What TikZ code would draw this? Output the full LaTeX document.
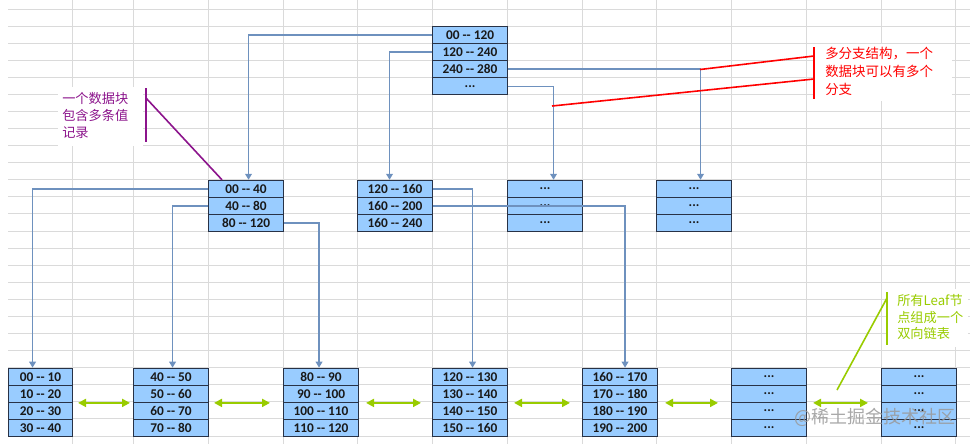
\documentclass[tikz,border=0pt]{standalone}
\usepackage{fontspec}
\setmainfont{Carlito}
\newfontfamily\cjk{Noto Sans CJK SC}
\usetikzlibrary{arrows.meta,calc}
\definecolor{cellblue}{RGB}{153,204,255}
\definecolor{celledge}{RGB}{40,50,70}
\definecolor{connblue}{RGB}{110,145,190}
\definecolor{gridgray}{RGB}{218,218,218}
\definecolor{notepurple}{RGB}{140,20,140}
\definecolor{notegreen}{RGB}{153,204,0}
\newcommand\rng[2]{#1 -{}- #2}
\tikzset{
  cell/.style={draw=celledge, fill=cellblue, line width=0.8pt, minimum width=56.25pt,
    minimum height=12.81pt, inner sep=0pt, anchor=north west, text=black!90,
    font=\bfseries\fontsize{10}{12}\selectfont},
  narrowcell/.style={cell, minimum width=48pt},
  gridline/.style={draw=gridgray, line width=0.75pt},
  conn/.style={draw=connblue, line width=1.35pt, -{Triangle[length=4.5pt,width=5pt]}},
  link/.style={draw=notegreen, line width=1.5pt,
    {Triangle[length=6pt,width=6pt]}-{Triangle[length=6pt,width=6pt]}},
  notebox/.style={fill=white, draw=none},
  notetext/.style={anchor=west, align=left, inner sep=0pt},
  noteline/.style={line width=1.2pt}
}
\begin{document}
\begin{tikzpicture}[x=0.75pt,y=-0.75pt]
\useasboundingbox (0,0) rectangle (970,444);
% spreadsheet grid
\foreach \k in {0,...,25} \draw[gridline] (8,{9+17.08*\k}) -- (970,{9+17.08*\k});
\foreach \x in {72,133,208,283,357,432,507,582,656,731,806,881,955} \draw[gridline] (\x,0) -- (\x,444);

% root
\node[cell] (r1) at (432,26.08) {\rng{00}{120}};
\node[cell] (r2) at (432,43.16) {\rng{120}{240}};
\node[cell] (r3) at (432,60.24) {\rng{240}{280}};
\node[cell] (r4) at (432,77.32) {...};

% middle level
\node[cell] (m1a) at (208,179.80) {\rng{00}{40}};
\node[cell] (m1b) at (208,196.88) {\rng{40}{80}};
\node[cell] (m1c) at (208,213.96) {\rng{80}{120}};
\node[cell] (m2a) at (357,179.80) {\rng{120}{160}};
\node[cell] (m2b) at (357,196.88) {\rng{160}{200}};
\node[cell] (m2c) at (357,213.96) {\rng{160}{240}};
\node[cell] (m3a) at (507,179.80) {...};
\node[cell] (m3b) at (507,196.88) {...};
\node[cell] (m3c) at (507,213.96) {...};
\node[cell] (m4a) at (656,179.80) {...};
\node[cell] (m4b) at (656,196.88) {...};
\node[cell] (m4c) at (656,213.96) {...};

% leaves
\node[narrowcell] (l1a) at (8,367.68) {\rng{00}{10}};
\node[narrowcell] (l1b) at (8,384.76) {\rng{10}{20}};
\node[narrowcell] (l1c) at (8,401.84) {\rng{20}{30}};
\node[narrowcell] (l1d) at (8,418.92) {\rng{30}{40}};
\node[cell] (l2a) at (133,367.68) {\rng{40}{50}};
\node[cell] (l2b) at (133,384.76) {\rng{50}{60}};
\node[cell] (l2c) at (133,401.84) {\rng{60}{70}};
\node[cell] (l2d) at (133,418.92) {\rng{70}{80}};
\node[cell] (l3a) at (283,367.68) {\rng{80}{90}};
\node[cell] (l3b) at (283,384.76) {\rng{90}{100}};
\node[cell] (l3c) at (283,401.84) {\rng{100}{110}};
\node[cell] (l3d) at (283,418.92) {\rng{110}{120}};
\node[cell] (l4a) at (432,367.68) {\rng{120}{130}};
\node[cell] (l4b) at (432,384.76) {\rng{130}{140}};
\node[cell] (l4c) at (432,401.84) {\rng{140}{150}};
\node[cell] (l4d) at (432,418.92) {\rng{150}{160}};
\node[cell] (l5a) at (582,367.68) {\rng{160}{170}};
\node[cell] (l5b) at (582,384.76) {\rng{170}{180}};
\node[cell] (l5c) at (582,401.84) {\rng{180}{190}};
\node[cell] (l5d) at (582,418.92) {\rng{190}{200}};
\node[cell] (l6a) at (731,367.68) {...};
\node[cell] (l6b) at (731,384.76) {...};
\node[cell] (l6c) at (731,401.84) {...};
\node[cell] (l6d) at (731,418.92) {...};
\node[cell] (l7a) at (881,367.68) {...};
\node[cell] (l7b) at (881,384.76) {...};
\node[cell] (l7c) at (881,401.84) {...};
\node[cell] (l7d) at (881,418.92) {...};

% tree connectors
\draw[conn] (r1.west) -| ($(m1a.north)+(2.5,0)$);
\draw[conn] (r2.west) -| ($(m2a.north)+(-5.5,0)$);
\draw[conn] (r3.east) -| ($(m4a.north)+(6.5,0)$);
\draw[conn] (r4.east) -| ($(m3a.north)+(8.5,0)$);
\draw[conn] (m1a.west) -| ($(l1a.north)+(-8,0)$);
\draw[conn] (m1b.west) -| ($(l2a.north)+(1.5,0)$);
\draw[conn] (m1c.east) -| ($(l3a.north)+(-2,0)$);
\draw[conn] (m2a.east) -| ($(l4a.north)+(2.5,0)$);
\draw[conn] (m2b.east) -| ($(l5a.north)+(5,0)$);

% leaf links
\draw[link] ($(l1b.south east)+(5,0)$) -- ($(l2b.south west)+(-3,0)$);
\draw[link] ($(l2b.south east)+(5,0)$) -- ($(l3b.south west)+(-13,0)$);
\draw[link] ($(l3b.south east)+(7,0)$) -- ($(l4b.south west)+(-11,0)$);
\draw[link] ($(l4b.south east)+(6,0)$) -- ($(l5b.south west)+(-12,0)$);
\draw[link] ($(l5b.south east)+(7,0)$) -- ($(l6b.south west)+(-13,0)$);
\draw[link] ($(l6b.south east)+(6,0)$) -- ($(l7b.south west)+(-13,0)$);

% purple note
\fill[notebox] (58,87) rectangle (143,146);
\node[notetext, text=notepurple, font=\cjk\fontsize{9.9}{12.75}\selectfont] (pnote) at (62,115)
  {一个数据块\\包含多条值\\记录};
\coordinate (pbt) at (146,88);
\coordinate (pbb) at (146,142);
\coordinate (pbm) at (146,98);
\draw[noteline, notepurple] (pbt) -- (pbb);
\draw[noteline, notepurple] (pbm) -- ($(m1a.north west)+(14,0)$);

% red note
\fill[notebox] (814,44) rectangle (952,101);
\node[notetext, text=red, font=\cjk\fontsize{10.1}{13.5}\selectfont] (rnote) at (825,71)
  {多分支结构，一个\\数据块可以有多个\\分支};
\coordinate (rbt) at (814,47);
\coordinate (rbb) at (814,99);
\coordinate (rb1) at (814,56);
\coordinate (rb2) at (814,79);
\coordinate (rp1) at (700,69.5);
\coordinate (rp2) at (552,106);
\draw[noteline, red] (rbt) -- (rbb);
\draw[noteline, red] (rp1) -- (rb1);
\draw[noteline, red] (rp2) -- (rb2);

% green note
\fill[notebox] (887,289) rectangle (968,347);
\node[notetext, text=notegreen, font=\cjk\fontsize{9.9}{12.4}\selectfont] (gnote) at (897,317)
  {所有Leaf节\\点组成一个\\双向链表};
\coordinate (gbt) at (887,292);
\coordinate (gbb) at (887,345);
\coordinate (gbm) at (887,298);
\coordinate (gp) at (837,390);
\draw[noteline, notegreen] (gbt) -- (gbb);
\draw[noteline, notegreen] (gbm) -- (gp);

% watermark
\node[anchor=east, inner sep=0pt, text=black!40, opacity=0.85, font=\cjk\fontsize{13.5}{14}\selectfont] (wm) at (956,417) {@稀土掘金技术社区};
\end{tikzpicture}
\end{document}
